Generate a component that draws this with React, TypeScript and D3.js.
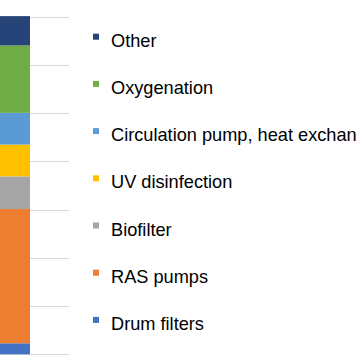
import React from "react";
import * as d3 from "d3";

const categories = ["System"];
const seriesNames = ["Drum filters", "RAS pumps", "Biofilter", "UV disinfection", "Circulation pump, heat exchanger", "Oxygenation", "Other"];
const seriesValues = [0.114, 1.392, 0.339, 0.329, 0.329, 0.699, 0.304];
const seriesColors = ["#4472C4", "#ED7D31", "#A5A5A5", "#FFC000", "#5B9BD5", "#70AD47", "#264478"];
const yTicks = [0, 0.5, 1, 1.5, 2, 2.5, 3, 3.5];
const legendOrder = ["Other", "Oxygenation", "Circulation pump, heat exchanger", "UV disinfection", "Biofilter", "RAS pumps", "Drum filters"];

export default function App() {
  const W = 356, H = 364;
  const y = d3.scaleLinear().domain([0, 3.5]).range([354.3, 16.7]);
  const x = d3.scaleBand().domain(categories).range([-10, 30]).padding(0);
  const gridX0 = -10, gridX1 = 69;

  const row: any = { cat: categories[0] };
  seriesNames.forEach((n, i) => (row[n] = seriesValues[i]));
  const stacked = d3.stack().keys(seriesNames)([row]);

  const ly = d3.scalePoint().domain(legendOrder).range([46.7, 329.9]);
  const colorOf = (n: string) => seriesColors[seriesNames.indexOf(n)];

  return (
    <svg width={W} height={H} style={{ position: "absolute", left: 0, top: 0, background: "#fff" }}>
      {yTicks.map((t) => (
        <line key={t} x1={gridX0} x2={gridX1} y1={Math.round(y(t)) + 0.5} y2={Math.round(y(t)) + 0.5} stroke="#D9D9D9" strokeWidth={1} />
      ))}
      {stacked.map((s, i) => (
        <rect
          key={s.key}
          x={x(categories[0])}
          width={x.bandwidth()}
          y={y(s[0][1])}
          height={y(s[0][0]) - y(s[0][1])}
          fill={seriesColors[i]}
        />
      ))}
      {legendOrder.map((n) => {
        const by = ly(n)!;
        return (
          <g key={n}>
            <rect x={93} y={by - 13} width={6} height={6} fill={colorOf(n)} />
            <text x={111} y={by} fontFamily="'Liberation Sans', Arial, sans-serif" fontSize={18.2} fill="#000">
              {n}
            </text>
          </g>
        );
      })}
    </svg>
  );
}
